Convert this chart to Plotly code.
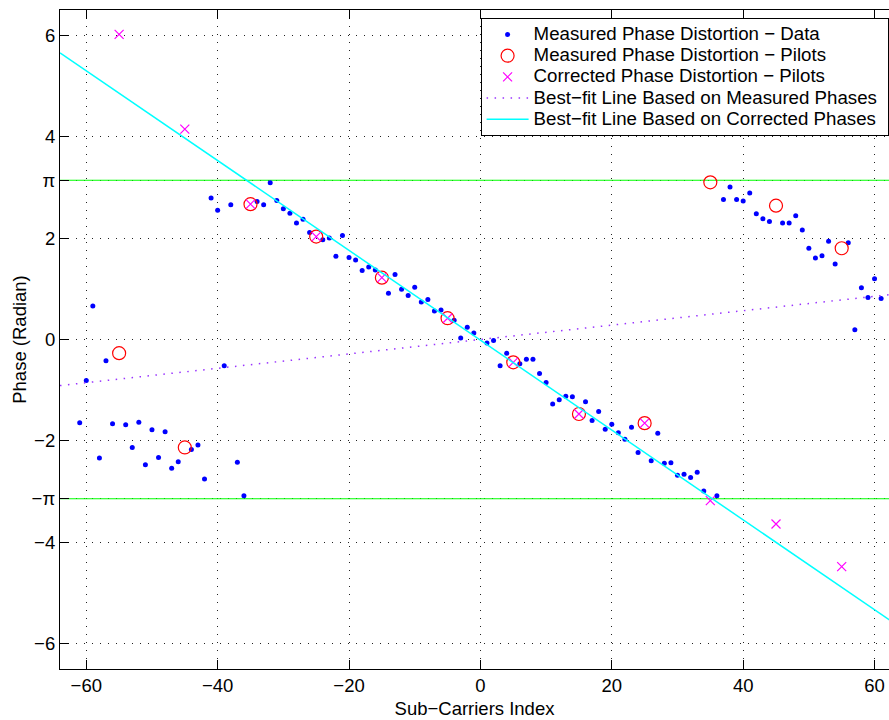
import math
import plotly.graph_objects as go

# ---------------- data ----------------
data_x = [-61, -60, -59, -58, -57, -56, -54, -53, -52, -51, -50, -49, -48, -47, -46,
          -44, -43, -42, -41, -40, -39, -38, -37, -36, -34, -33, -32, -31, -30, -29,
          -28, -27, -26, -24, -23, -22, -21, -20, -19, -18, -17, -16, -14, -13, -12,
          -11, -10, -9, -8, -7, -6, -4, -3, -2, -1, 1, 2, 3, 4, 6, 7, 8, 9, 10, 11,
          12, 13, 14, 16, 17, 18, 19, 20, 21, 22, 23, 24, 26, 27, 28, 29, 30, 31, 32,
          33, 34, 36, 37, 38, 39, 40, 41, 42, 43, 44, 46, 47, 48, 49, 50, 51, 52, 53,
          54, 56, 57, 58, 59, 60, 61]
data_y = [-1.64, -0.81, 0.66, -2.34, -0.42, -1.66, -1.68, -2.13, -1.63, -2.47, -1.78,
          -2.33, -1.82, -2.54, -2.41, -2.17, -2.08, -2.75, 2.79, 2.55, -0.52, 2.66,
          -2.42, -3.08, 2.72, 2.66, 3.09, 2.74, 2.58, 2.49, 2.30, 2.37, 2.11, 1.97,
          2.00, 1.64, 2.05, 1.62, 1.57, 1.36, 1.43, 1.37, 0.91, 1.28, 0.99, 0.87, 1.03,
          0.74, 0.79, 0.56, 0.58, 0.38, 0.03, 0.24, 0.13, -0.07, -0.02, -0.52, -0.27,
          -0.48, -0.39, -0.39, -0.67, -0.85, -1.27, -1.19, -1.12, -1.13, -1.23, -1.60,
          -1.42, -1.77, -1.67, -1.84, -1.97, -1.73, -2.23, -2.39, -1.85, -2.44, -2.43,
          -2.68, -2.66, -2.72, -2.62, -2.99, -3.08, 2.76, 3.01, 2.76, 2.73, 2.89, 2.48,
          2.38, 2.33, 2.30, 2.30, 2.44, 2.16, 1.80, 1.61, 1.65, 1.94, 1.49, 1.91, 0.19,
          1.02, 0.83, 1.20, 0.81]

pilot_x = [-55, -45, -35, -25, -15, -5, 5, 15, 25, 35, 45, 55]
pilot_measured = [-0.27, -2.13, 2.67, 2.03, 1.22, 0.42, -0.45, -1.47, -1.65, 3.10, 2.64, 1.80]
pilot_corrected = [6.02, 4.15, 2.67, 2.03, 1.22, 0.42, -0.45, -1.47, -1.65, -3.18, -3.64, -4.48]

fit_x = [-64, 64]
fit_measured_slope, fit_measured_icpt = 0.0142, 0.0
fit_corrected_slope, fit_corrected_icpt = -0.0886, -0.014

x_tickvals = [-60, -40, -20, 0, 20, 40, 60]
x_ticktext = ["\u221260", "\u221240", "\u221220", "0", "20", "40", "60"]
y_tickvals = [-6, -4, -math.pi, -2, 0, 2, math.pi, 4, 6]
y_ticktext = ["\u22126", "\u22124", "\u2212\u03c0", "\u22122", "0", "2", "\u03c0", "4", "6"]

legend_names = ["Measured Phase Distortion \u2212 Data",
                "Measured Phase Distortion \u2212 Pilots",
                "Corrected Phase Distortion \u2212 Pilots",
                "Best\u2212fit Line Based on Measured Phases",
                "Best\u2212fit Line Based on Corrected Phases"]

FONT = "Liberation Sans, Arial, Helvetica, sans-serif"


def lg(name):
    return '<span style="font-size:18.7px">' + name + '\u00a0</span>'


fig = go.Figure()

# +/- pi reference lines
for v in (math.pi, -math.pi):
    fig.add_trace(go.Scatter(x=fit_x, y=[v, v], mode="lines",
                             line=dict(color="#00ff00", width=1.2),
                             showlegend=False, hoverinfo="skip"))

fig.add_trace(go.Scatter(x=data_x, y=data_y, mode="markers",
                         name=lg(legend_names[0]),
                         marker=dict(color="#0000ff", size=5)))
fig.add_trace(go.Scatter(x=pilot_x, y=pilot_measured, mode="markers",
                         name=lg(legend_names[1]),
                         marker=dict(symbol="circle-open", color="#ff0000", size=13,
                                     line=dict(width=1.2, color="#ff0000"))))
fig.add_trace(go.Scatter(x=pilot_x, y=pilot_corrected, mode="markers",
                         name=lg(legend_names[2]),
                         marker=dict(symbol="x-thin-open", color="#ff00ff", size=9,
                                     line=dict(width=1.2, color="#ff00ff"))))
fig.add_trace(go.Scatter(x=fit_x,
                         y=[fit_measured_slope * v + fit_measured_icpt for v in fit_x],
                         mode="lines",
                         name=lg(legend_names[3]),
                         line=dict(color="#9933ff", width=1.5, dash="1.5px,6.5px")))
fig.add_trace(go.Scatter(x=fit_x,
                         y=[fit_corrected_slope * v + fit_corrected_icpt for v in fit_x],
                         mode="lines",
                         name=lg(legend_names[4]),
                         line=dict(color="#00ffff", width=1.5)))

axis_common = dict(
    showline=True, linecolor="black", linewidth=1.2,
    ticks="inside", ticklen=9, tickcolor="black", tickwidth=1,
    showgrid=True, gridcolor="#222222", gridwidth=1, griddash="1px,7px",
    zeroline=False,
    tickfont=dict(family=FONT, size=18.5, color="black"),
)

fig.update_layout(
    width=889, height=720,
    margin=dict(l=60, r=0, t=10, b=51),
    paper_bgcolor="white", plot_bgcolor="white",
    font=dict(family=FONT, size=18, color="black"),
    xaxis=dict(range=[-64, 62.2], tickvals=x_tickvals, ticktext=x_ticktext,
               mirror="ticks",
               title=dict(text="Sub\u2212Carriers Index", font=dict(size=18.5), standoff=6),
               **axis_common),
    yaxis=dict(range=[-6.5, 6.5], tickvals=y_tickvals, ticktext=y_ticktext,
               mirror=False,
               title=dict(text="Phase (Radian)", font=dict(size=18.5), standoff=0),
               **axis_common),
    legend=dict(x=0.9995, y=0.988, xanchor="right", yanchor="top",
                bgcolor="white", bordercolor="black", borderwidth=1,
                font=dict(family=FONT, size=14, color="black"),
                itemwidth=42, tracegroupgap=0),
    showlegend=True,
)

fig.write_html("out.html", config={"displayModeBar": False},
               post_script="document.body.style.margin='0px';")
